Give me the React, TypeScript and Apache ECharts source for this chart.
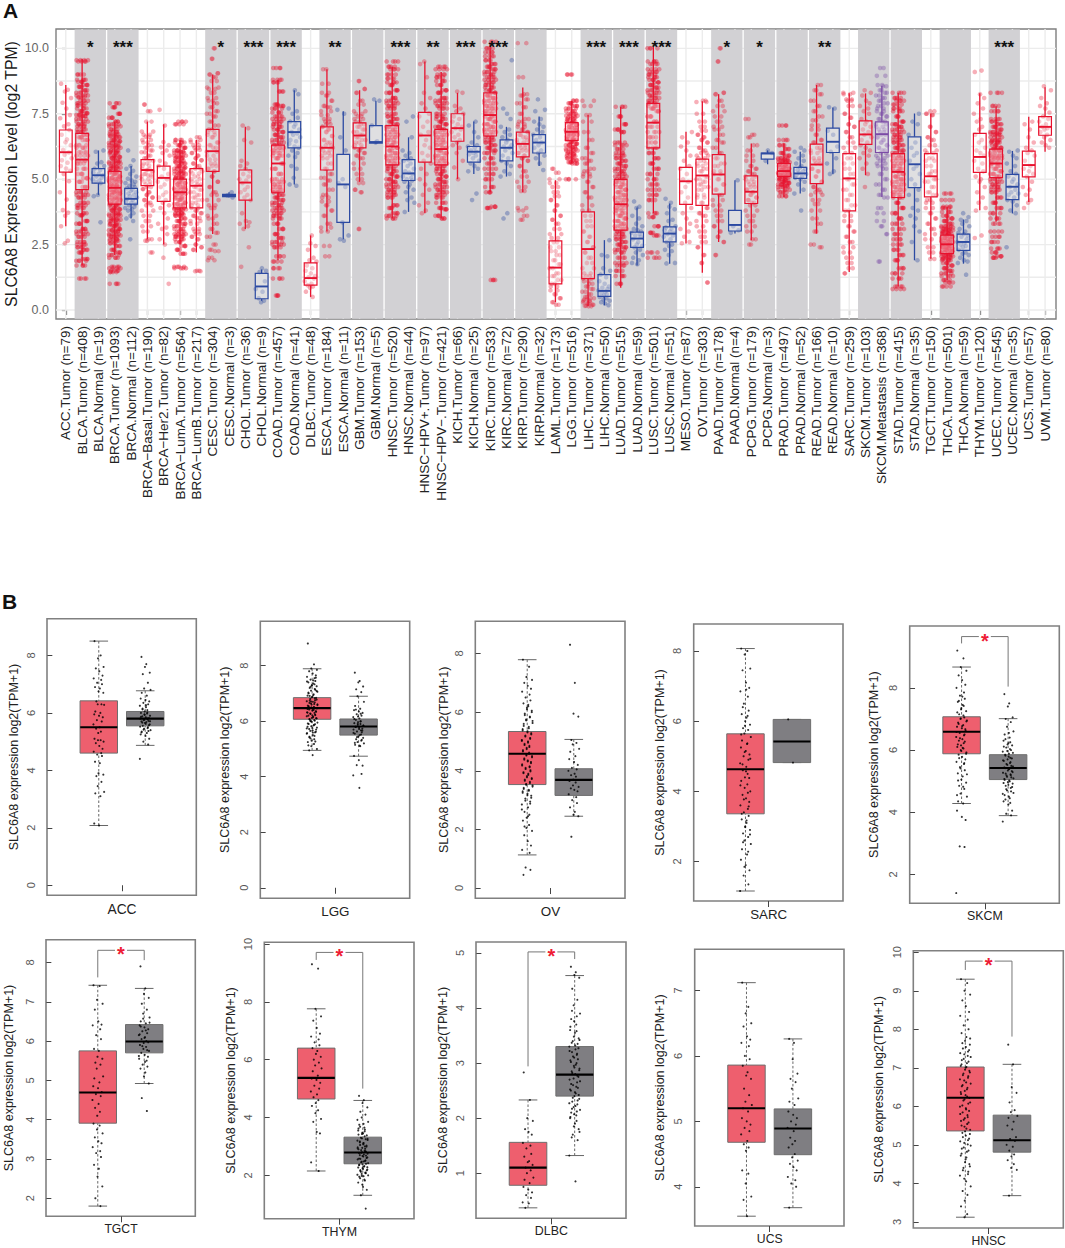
import React, { useEffect, useRef } from "react";
import * as echarts from "echarts";

const FONT = '"Liberation Sans", Arial, sans-serif';

const categories = ["ACC.Tumor (n=79)","BLCA.Tumor (n=408)","BLCA.Normal (n=19)","BRCA.Tumor (n=1093)","BRCA.Normal (n=112)","BRCA−Basal.Tumor (n=190)","BRCA−Her2.Tumor (n=82)","BRCA−LumA.Tumor (n=564)","BRCA−LumB.Tumor (n=217)","CESC.Tumor (n=304)","CESC.Normal (n=3)","CHOL.Tumor (n=36)","CHOL.Normal (n=9)","COAD.Tumor (n=457)","COAD.Normal (n=41)","DLBC.Tumor (n=48)","ESCA.Tumor (n=184)","ESCA.Normal (n=11)","GBM.Tumor (n=153)","GBM.Normal (n=5)","HNSC.Tumor (n=520)","HNSC.Normal (n=44)","HNSC−HPV+.Tumor (n=97)","HNSC−HPV−.Tumor (n=421)","KICH.Tumor (n=66)","KICH.Normal (n=25)","KIRC.Tumor (n=533)","KIRC.Normal (n=72)","KIRP.Tumor (n=290)","KIRP.Normal (n=32)","LAML.Tumor (n=173)","LGG.Tumor (n=516)","LIHC.Tumor (n=371)","LIHC.Normal (n=50)","LUAD.Tumor (n=515)","LUAD.Normal (n=59)","LUSC.Tumor (n=501)","LUSC.Normal (n=51)","MESO.Tumor (n=87)","OV.Tumor (n=303)","PAAD.Tumor (n=178)","PAAD.Normal (n=4)","PCPG.Tumor (n=179)","PCPG.Normal (n=3)","PRAD.Tumor (n=497)","PRAD.Normal (n=52)","READ.Tumor (n=166)","READ.Normal (n=10)","SARC.Tumor (n=259)","SKCM.Tumor (n=103)","SKCM.Metastasis (n=368)","STAD.Tumor (n=415)","STAD.Normal (n=35)","TGCT.Tumor (n=150)","THCA.Tumor (n=501)","THCA.Normal (n=59)","THYM.Tumor (n=120)","UCEC.Tumor (n=545)","UCEC.Normal (n=35)","UCS.Tumor (n=57)","UVM.Tumor (n=80)"];

// low whisker, Q1, median, Q3, high whisker
const boxStats = [[3.2,5.27,6.03,6.88,8.6],[1.7,4.6,5.75,6.75,9.6],[4.4,4.85,5.15,5.4,6.1],[2.1,4.05,4.67,5.3,7.2],[3.5,4.05,4.25,4.65,5.5],[2.7,4.75,5.35,5.75,7.2],[2.5,4.15,5.05,5.5,7.1],[2.5,3.9,4.5,5,6.5],[2.2,3.9,4.75,5.4,6.5],[2.9,5.3,6.07,6.9,9],[4.3,4.33,4.38,4.42,4.5],[3.1,4.2,4.87,5.35,7],[0.35,0.43,0.9,1.4,1.55],[1.9,4.5,5.6,6.3,8.8],[4.8,6.2,6.8,7.2,8.4],[0.5,0.95,1.22,1.8,2.85],[3,5.35,6.2,7,9.2],[2.7,3.35,4.8,5.95,7.6],[4.9,6.2,6.67,7.15,8.4],[6.35,6.38,6.42,7.05,8],[3.5,5.55,6.25,7.05,9.3],[3.75,4.95,5.22,5.75,6.6],[3.7,5.65,6.67,7.55,9.5],[3.5,5.55,6.15,6.9,9.1],[5,6.45,6.95,7.5,8.3],[5.2,5.65,6.05,6.25,7.2],[4.5,6.65,7.45,8.3,10.2],[5.1,5.7,6.2,6.5,7],[4.5,5.85,6.35,6.8,8.5],[5.5,6,6.4,6.7,7.4],[0.3,1,1.62,2.64,4.96],[5.6,6.48,6.81,7.16,8],[0.14,1.2,2.33,3.75,7.45],[0.18,0.52,0.73,1.35,2.67],[0.85,3.05,4.04,4.99,7.77],[1.7,2.39,2.73,2.98,3.92],[3.7,6.2,7.16,7.9,10.06],[1.77,2.6,2.92,3.18,4.07],[2.54,4.04,4.92,5.45,6.81],[1.42,4,5.14,5.77,7.98],[2.6,4.43,5.18,5.94,8.25],[2.92,3.02,3.25,3.81,4.96],[2.67,4.07,4.52,5.13,6.36],[5.57,5.77,5.98,6,6.1],[4.32,5.11,5.31,5.6,6.36],[4.45,5.03,5.22,5.45,6.05],[2.92,4.83,5.56,6.34,8.6],[5.19,6.02,6.43,6.95,7.74],[1.45,3.79,5.03,5.98,8.28],[5.15,6.33,6.71,7.23,8.28],[4.32,6.02,6.72,7.19,8.56],[0.9,4.3,5.28,5.98,8.3],[1.9,4.68,5.57,6.62,7.51],[1.96,4.32,5.11,5.98,7.51],[1.14,2.16,2.51,2.86,3.94],[1.77,2.28,2.6,2.9,3.46],[3.81,5.26,5.85,6.75,8.28],[3.37,5.06,5.6,6.15,7.79],[3.69,4.22,4.71,5.18,6.08],[4.13,5.09,5.54,6.07,7.39],[6.05,6.68,7,7.39,8.51]];

const pointValues = [
[8.65,8.42,8.35,8.1,7.92,7.7,7.45,7.33,7.1,7.02,6.88,6.7,6.52,6.41,6.3,6.12,6.02,5.93,5.8,5.72,5.63,5.5,5.41,5.32,5.2,4.92,4.5,4.22,3.82,3.72,3.6,3.2,2.65,2.55],
[9.55,9.5,9,8.8,8.72,8.6,8.53,8.4,8.3,8.2,8.13,8,7.9,7.82,7.7,7.6,7.52,7.45,7.41,7.3,7.2,7.1,7.02,6.9,6.8,6.7,6.6,6.5,6.3,6.2,6.03,5.9,5.7,5.6,5.4,5.2,5.04,4.9,4.7,4.5,4.4,4.3,4.1,4,3.9,3.7,3.62,3.4,3.3,3.1,3,2.9,2.8,2.6,2.5,2.4,2.3,2.2,1.95,1.88,1.7,1.2],
[6.1,6.05,5.65,5.6,5.5,5.4,5.35,5.25,5.2,5.15,5.1,5.05,5,4.95,4.9,4.85,4.4,4.35,3.35],
[7.9,7.75,7.5,7.35,7.2,7.1,7.02,6.9,6.8,6.72,6.65,6.6,6.5,6.45,6.38,6.3,6.25,6.2,6.1,6.05,6,5.9,5.85,5.8,5.7,5.65,5.6,5.5,5.45,5.4,5.3,5.25,5.2,5.1,5.05,5,4.95,4.9,4.8,4.75,4.7,4.6,4.55,4.5,4.45,4.4,4.3,4.25,4.2,4.1,4.05,4,3.9,3.85,3.8,3.7,3.65,3.6,3.5,3.45,3.4,3.3,3.25,3.2,3.1,3.05,3,2.9,2.85,2.8,2.7,2.65,2.55,2.45,2.3,2.2,2.1,2,1.65,1.6,1.5,1.45,1],
[6.1,5.72,5.5,5.4,5.32,5.2,5.1,5.02,4.95,4.9,4.85,4.8,4.75,4.7,4.65,4.6,4.55,4.5,4.45,4.4,4.35,4.3,4.25,4.2,4.15,4.1,4.05,4,3.95,3.9,3.85,3.8,3.7,3.6,3.5,3.4,2.7],
[7.85,7.6,7.2,6.82,6.7,6.62,6.5,6.4,6.3,6.2,6.1,6.03,5.9,5.8,5.7,5.6,5.52,5.4,5.35,5.3,5.2,5.15,5.1,5,4.9,4.8,4.7,4.62,4.5,4.4,4.3,4.2,4.1,4,3.8,3.6,3.4,3.2,3,2.7,2.65,2.2],
[7.65,7.05,6.42,6.3,6.22,6.1,6,5.9,5.7,5.6,5.5,5.4,5.2,5.1,5,4.9,4.8,4.7,4.5,4.4,4.3,4.2,4.1,4,3.9,3.7,3.5,3.3,3.15,3.1,2.9,2.7,2.5,2,1],
[7.2,7.1,6.5,6.4,6.3,6.2,6.1,6.05,6,5.9,5.85,5.8,5.7,5.65,5.6,5.5,5.45,5.4,5.3,5.25,5.2,5.1,5.05,5,4.9,4.85,4.8,4.7,4.65,4.6,4.5,4.45,4.4,4.3,4.25,4.2,4.1,4.05,4,3.9,3.85,3.8,3.7,3.65,3.6,3.5,3.4,3.3,3.2,3.1,3,2.9,2.85,2.8,2.7,2.6,2.45,2.3,2.15,1.65,1.6],
[6.6,6.5,6.42,6.3,6.2,6.12,6,5.9,5.8,5.72,5.6,5.5,5.4,5.3,5.22,5.1,5,4.9,4.8,4.7,4.6,4.5,4.4,4.3,4.2,4.1,4,3.9,3.8,3.7,3.6,3.52,3.4,3.3,3.1,3,2.9,2.8,2.7,2.5,2.4,2.3,1.5,1.48],
[10,9.6,9.05,9,8.9,8.75,8.5,8.45,8.3,8.1,8,7.9,7.75,7.6,7.5,7.4,7.2,7.05,6.9,6.8,6.7,6.6,6.4,6.3,6.2,6.05,5.9,5.75,5.6,5.5,5.4,5.3,5.1,4.9,4.7,4.5,4.4,4.2,4,3.9,3.6,3.5,3.3,3.1,2.95,2.8,2.5,2.3,2.25,2,1.9],
[4.5,4.38,4.3],
[7.05,6.95,6.5,6.4,5.7,5.6,5.5,5.4,5.3,5.2,5.1,5,4.95,4.85,4.7,4.6,4.5,4.4,4.3,4.2,3.7,3.4,3.35,3.3,3.2,3.1,2.4,1.65],
[1.6,1.5,1.45,1.1,0.8,0.7,0.45,0.35,0.3],
[9.25,8.8,8.7,8.35,7.85,7.8,7.7,7.55,7.4,7.3,7.2,7.1,7,6.9,6.8,6.7,6.6,6.5,6.4,6.3,6.2,6.1,6,5.9,5.8,5.6,5.4,5.2,5,4.9,4.8,4.7,4.6,4.5,4.4,4.3,4.2,4.1,4,3.9,3.8,3.7,3.6,3.5,3.3,3.1,2.9,2.75,2.6,2.5,2.4,2.05,1.85,1.6,1.2,0.55],
[8.4,8.25,7.7,7.6,7.5,7.35,7.2,7.1,7,6.9,6.8,6.75,6.7,6.6,6.5,6.45,6.35,6.25,6.2,6.1,6,5.9,5.85,5.5,5.4,5.05,4.8,4.75],
[2.85,2.55,2.45,2.3,2,1.9,1.85,1.7,1.6,1.5,1.4,1.3,1.25,1.2,1.1,1,0.95,0.9,0.85,0.7,0.5],
[9.2,8.65,8.3,8.2,8,7.8,7.75,7.6,7.45,7.3,7.2,7.1,7,6.9,6.8,6.65,6.5,6.4,6.3,6.2,6.1,6,5.9,5.8,5.6,5.4,5.2,5.05,4.95,4.8,4.6,4.4,4.3,4.15,4,3.8,3.6,3.3,3.15,3,2.45,2.05],
[7.65,7.5,6.6,6.1,5,4.85,4.7,3.35,2.85,2.7,2.65],
[8.75,8.45,8.3,8,7.85,7.6,7.5,7.4,7.3,7.2,7.1,7,6.9,6.8,6.7,6.6,6.5,6.4,6.3,6.2,6.1,6,5.9,5.8,5.6,5.4,5.2,5,4.85,4.6,4.5,3.1],
[8.05,8,7.05,6.45,6.4],
[9.5,9.3,9.2,9,8.85,8.7,8.6,8.4,8.3,8.1,8,7.9,7.8,7.7,7.5,7.4,7.3,7.2,7.1,7,6.9,6.8,6.7,6.6,6.5,6.4,6.3,6.2,6.1,6,5.9,5.8,5.7,5.6,5.5,5.4,5.3,5.2,5.1,5,4.9,4.8,4.7,4.6,4.5,4.4,4.3,4,3.9,3.7,3.6,3.5],
[7.4,7.2,6.6,6.1,6,5.9,5.8,5.75,5.7,5.6,5.5,5.4,5.3,5.25,5.2,5.1,5.05,5,4.95,4.9,4.8,4.7,4.6,4.5,4.3,4.2,4.1,3.75],
[9.5,9.4,8.9,8.3,8.1,7.9,7.7,7.5,7.4,7.2,7,6.8,6.7,6.5,6.3,6.2,6,5.9,5.7,5.6,5.4,5.2,5,4.8,4.6,4.4,4.1,4,3.8,3.7],
[9.3,9.2,9,8.9,8.75,8.6,8.4,8.3,8.1,8,7.9,7.8,7.7,7.5,7.4,7.3,7.2,7.1,7,6.9,6.8,6.7,6.6,6.5,6.4,6.3,6.2,6.1,6,5.9,5.8,5.7,5.6,5.5,5.4,5.3,5.2,5.1,5,4.9,4.8,4.7,4.6,4.5,4.4,4.3,4.1,3.9,3.85,3.6,3.5],
[8.35,8.3,7.8,7.7,7.6,7.5,7.4,7.3,7.2,7.1,7,6.95,6.9,6.8,6.7,6.6,6.5,6.4,6.3,6.2,6,5.7,5.45,5],
[7.2,7.05,6.8,6.6,6.4,6.3,6.25,6.2,6.1,6.05,6,5.95,5.9,5.8,5.7,5.6,5.5,5.4,5.3,4.45,4.2],
[10.25,10,9.85,9.7,9.55,9.4,9.3,9.2,9.1,9,8.9,8.8,8.7,8.6,8.5,8.4,8.3,8.2,8.1,8,7.9,7.8,7.7,7.6,7.5,7.4,7.3,7.2,7.1,7,6.9,6.8,6.7,6.6,6.5,6.4,6.3,6.2,6.1,6,5.8,5.6,5.4,5.2,5,4.7,4.5,3.95,3.9,1.15],
[9.55,7.7,7.5,7.3,7,6.9,6.8,6.7,6.6,6.5,6.4,6.3,6.25,6.2,6.1,6,5.9,5.8,5.7,5.6,5.5,5.3,5.2,5.1,3.7,3.5],
[10.2,8.9,8.25,8.2,8.05,7.9,7.75,7.5,7.3,7.2,7.1,7,6.9,6.8,6.7,6.6,6.5,6.4,6.3,6.2,6.1,6,5.9,5.8,5.7,5.5,5.3,5.1,4.9,4.7,4.55,3.9,3.8,3.6,3.45],
[8.05,7.65,7.6,7.3,7.2,7.1,7,6.9,6.8,6.7,6.6,6.5,6.4,6.3,6.2,6.1,6,5.9,5.8,5.6,5.35],
[5.4,5.25,5,4.85,4.7,4.5,4.35,4.2,4,3.8,3.6,3.45,3.3,3.1,2.9,2.75,2.6,2.4,2.25,2.1,1.9,1.75,1.6,1.4,1.3,1.15,1,0.9,0.75,0.6,0.45,0.3,0.2],
[9,8,7.9,7.8,7.7,7.6,7.5,7.42,7.35,7.28,7.2,7.15,7.08,7,6.95,6.88,6.8,6.75,6.7,6.62,6.55,6.5,6.42,6.35,6.3,6.22,6.15,6.1,6.02,5.95,5.88,5.8,5.72,5.65,5.6,5],
[8.0,7.8,7.45,7.2,6.8,6.5,6.2,6,5.8,5.7,5.6,5.4,5.3,5.2,5.1,4.9,4.7,4.5,4.3,4,3.8,3.6,3.4,3.2,3,2.8,2.6,2.4,2.2,2,1.8,1.6,1.4,1.3,1.2,1.1,1,0.9,0.8,0.7,0.6,0.5,0.45,0.4,0.35,0.3,0.25,0.2,0.16,0.14],
[2.67,2.1,2.05,1.6,1.5,1.35,1.25,1.1,1,0.9,0.85,0.8,0.75,0.7,0.65,0.6,0.55,0.5,0.45,0.4,0.35,0.3,0.25,0.18],
[7.77,7.4,7.1,6.9,6.8,6.4,6.3,6.15,6,5.9,5.8,5.7,5.6,5.5,5.4,5.3,5.2,5.1,5,4.9,4.8,4.7,4.6,4.5,4.4,4.3,4.2,4.1,4,3.9,3.8,3.7,3.6,3.5,3.4,3.3,3.2,3.1,3,2.9,2.8,2.7,2.6,2.5,2.4,2.3,2.2,2,1.8,1.7,1.5,1.3,1],
[4.15,3.95,3.9,3.6,3.5,3.3,3.2,3.1,3.05,3,2.95,2.9,2.85,2.8,2.7,2.6,2.5,2.45,2.4,2.3,2.2,2.1,2,1.9,1.8,1.75],
[10,9.5,9.4,9.2,9.1,9,8.9,8.8,8.7,8.6,8.5,8.4,8.3,8.2,8.1,8,7.9,7.8,7.7,7.6,7.4,7.2,7,6.8,6.6,6.4,6.2,6,5.8,5.6,5.4,5.2,5,4.8,4.6,4.4,4.2,3.7,3.55,3.2,2.95,2.85,2.2,2],
[4.25,4.1,3.95,3.85,3.7,3.45,3.4,3.2,3.15,3.1,3.05,3,2.95,2.9,2.85,2.8,2.7,2.6,2.5,2.45,2.3,2.25,2.1,1.8,1.78],
[6.8,6.6,6.4,6.25,6.1,5.9,5.7,5.5,5.4,5.2,5,4.9,4.7,4.5,4.3,4.1,3.9,3.7,3.5,3.3,3.1,3,2.8,2.6,2.55],
[8,7.95,7.5,7.2,7,6.85,6.7,6.6,6.5,6.4,6.2,6.1,6,5.9,5.8,5.7,5.6,5.5,5.4,5.3,5.1,5,4.9,4.8,4.7,4.6,4.4,4.3,4.1,3.9,3.7,3.6,3.4,3.2,3,2.8,2.6,2.4,2.1,1.8,1.05],
[10,9.5,8.3,8.25,8,7.8,7.6,7.4,7.2,7,6.9,6.7,6.5,6.4,6.2,6,5.8,5.6,5.5,5.3,5.2,5,4.8,4.6,4.4,4.2,4,3.8,3.6,3.4,3.2,3,2.8,2.6,2.1],
[4.96,3.2,3.05,2.95],
[7.3,6.7,6.6,6.3,6.1,5.9,5.7,5.5,5.4,5.3,5.2,5.1,5,4.9,4.8,4.7,4.6,4.5,4.4,4.3,4.2,4.1,4,3.8,3.6,3.4,3.2,3,2.7,2.5],
[6.1,6,5.7],
[7.05,6.5,6.3,6.15,6,5.9,5.8,5.75,5.7,5.65,5.6,5.55,5.5,5.45,5.4,5.35,5.3,5.25,5.2,5.15,5.1,5.05,5,4.95,4.9,4.85,4.8,4.75,4.7,4.6,4.5,4.35],
[6.2,6.1,6.05,5.9,5.8,5.7,5.6,5.5,5.45,5.4,5.35,5.3,5.25,5.2,5.15,5.1,5.05,5,4.9,4.8,4.6,4.45,3.8],
[8.6,8.4,8.25,8,7.8,7.6,7.4,7.25,7.05,6.9,6.7,6.5,6.4,6.2,6.1,6,5.8,5.7,5.6,5.4,5.3,5.1,4.9,4.7,4.6,4.5,4.4,4.2,4.05,3.8,3.5,3.3,3,2.4,2.5],
[7.75,7.7,6.85,6.7,6.25,6.05,5.8,5.6,5.3,5.2],
[8.3,8.25,8.05,8,7.8,7.5,7.35,7.1,7,6.8,6.6,6.4,6.2,6,5.8,5.6,5.4,5.2,5,4.8,4.6,4.4,4.2,4,3.8,3.6,3.4,3.2,3,2.8,2.6,2.4,2.2,2,1.8,1.6,1.4],
[8.4,8.3,8.2,8,7.9,7.8,7.7,7.6,7.5,7.3,7.2,7.1,7,6.9,6.8,6.7,6.6,6.5,6.4,6.3,6.2,6.1,6,5.9,5.8,5.6,5.4,5.2,4.7],
[9.25,8.95,8.6,8.55,8.4,8.3,8.2,8.1,8,7.9,7.8,7.7,7.6,7.5,7.4,7.3,7.2,7.1,7,6.9,6.8,6.7,6.6,6.5,6.4,6.3,6.2,6.1,6,5.9,5.8,5.7,5.6,5.5,5.4,5.2,5,4.8,4.6,4.4,4.3,3.9,3.7,3.4,3.2,2.9,1.85],
[8.3,8.1,8,7.85,7.7,7.6,7.4,7.2,7.1,7,6.9,6.8,6.7,6.6,6.5,6.4,6.3,6.2,6.1,6,5.9,5.8,5.7,5.6,5.5,5.4,5.3,5.2,5.1,5,4.9,4.8,4.7,4.6,4.5,4.4,4.3,4.1,3.9,3.7,3.5,3.3,3.1,2.9,2.7,2.5,2.3,2.1,1.9,1.6,1.4,1.2,0.9,0.8],
[7.5,7.2,7.1,6.7,6.4,6.2,6,5.9,5.7,5.5,5.4,5.2,5,4.8,4.6,4.4,4.2,3.9,3.8,3.6,3.5,3.2,3,2.6,1.9],
[7.6,7.5,7.45,7,6.8,6.6,6.5,6.3,6.1,6,5.8,5.7,5.5,5.3,5.2,5,4.9,4.7,4.5,4.4,4.2,4.1,3.9,3.7,3.5,3.3,3.1,2.9,2.7,2.4,2.2,1.95],
[4.45,4.2,3.95,3.9,3.75,3.6,3.5,3.4,3.3,3.2,3.15,3.1,3.05,3,2.95,2.9,2.85,2.8,2.75,2.7,2.65,2.6,2.55,2.5,2.45,2.4,2.35,2.3,2.25,2.2,2.15,2.1,2.05,2,1.95,1.9,1.8,1.7,1.6,1.5,1.4,1.3,1.15,1.05,0.9],
[3.7,3.55,3.45,3.4,3.3,3.2,3.1,3,2.95,2.9,2.85,2.8,2.7,2.6,2.55,2.5,2.45,2.4,2.3,2.2,2.15,2.1,2,1.9,1.85,1.8,1.35],
[9.15,9.1,8.25,8.1,7.9,7.7,7.5,7.3,7.2,7,6.9,6.7,6.5,6.4,6.2,6.1,6,5.9,5.7,5.6,5.4,5.3,5.1,5,4.9,4.7,4.5,4.3,4.1,3.9,3.8,2.85,2.75],
[8.3,7.8,7.6,7.3,7.2,7.1,7,6.9,6.8,6.75,6.7,6.6,6.5,6.45,6.4,6.3,6.2,6.15,6.1,6,5.9,5.85,5.8,5.7,5.6,5.5,5.4,5.3,5.2,5.1,5,4.9,4.8,4.7,4.6,4.5,4.3,4.1,3.9,3.7,3.5,3.3,3,2.8,2.6,2.35,2.2,2.05,2],
[6.1,6.05,5.9,5.8,5.6,5.5,5.3,5.2,5.1,5,4.9,4.8,4.7,4.6,4.5,4.45,4.4,4.3,4.2,4.15,4,3.8,3.7,2.4],
[7.2,7.1,6.9,6.6,6.4,6.2,6.1,6,5.9,5.7,5.5,5.4,5.3,5.2,5.1,4.9,4.7,4.6,4.4,4.2,4.1,3.9],
[8.55,8.4,8.1,7.9,7.8,7.7,7.55,7.4,7.3,7.2,7.1,7,6.95,6.9,6.8,6.7,6.6,6.5,6.4,6.3,6.2]
];

const bandRanges = [[1,2],[3,4],[9,10],[11,12],[13,14],[16,17],[18,19],[20,21],[22,23],[24,25],[26,27],[28,29],[32,33],[34,35],[36,37],[40,41],[42,43],[44,45],[46,47],[49,50],[51,52],[54,55],[57,58]];
const bandStars = ["*","***","*","***","***","**","","***","**","***","***","","***","***","***","*","*","","**","","","","***"];
const yTicksA = [0,2.5,5,7.5,10];
const yGridA = [0,1.25,2.5,3.75,5,6.25,7.5,8.75,10];
const jitter = [-0.8,0.35,-0.15,0.9,-0.55,0.1,0.7,-0.95,0.45,-0.3,0.6,-0.7,0.2,-0.05,0.85,-0.45,0.5,-0.2,1,-0.65,0.3,-0.85,0.05,0.75,-0.35,0.55,-1,0.15,-0.5,0.4,-0.1];

const panelNames = ["ACC","LGG","OV","SARC","SKCM","TGCT","THYM","DLBC","UCS","HNSC"];
const panelTicks = [[0,2,4,6,8],[0,2,4,6,8],[0,2,4,6,8],[2,4,6,8],[2,4,6,8],[2,3,4,5,6,7,8],[2,4,6,8,10],[1,2,3,4,5],[4,5,6,7],[3,4,5,6,7,8,9,10]];
const tumorStats = [[2.08,4.6,5.5,6.42,8.5],[4.95,6.07,6.47,6.85,7.89],[1.13,3.53,4.58,5.34,7.79],[1.16,3.36,4.63,5.64,8.07],[4.28,5.88,6.59,7.07,8.67],[1.8,3.91,4.69,5.75,7.42],[2.15,4.64,5.37,6.4,7.76],[0.37,0.78,1.1,1.56,2.33],[3.55,4.68,5.2,5.86,7.12],[3.12,5.36,6.22,7.02,9.3]];
const normalStats = [[4.87,5.55,5.8,6.05,6.77],[4.74,5.5,5.81,6.08,6.9],[2.45,3.16,3.69,4.07,5.07],[4.82,4.82,5.42,6.05,6.05],[3.89,5.05,5.42,5.85,7.01],[4.92,5.7,5.99,6.42,7.34],[1.31,2.4,2.79,3.32,4.59],[1.32,2.4,2.79,3.3,4.59],[3.68,4.49,4.89,5.19,6.26],[3.68,4.81,5.12,5.77,7.09]];
// bracket: top, left end, right end (null = no bracket)
const brackets = [null,null,null,null,[9.65,9.43,8.04],[8.31,7.62,8.06],[9.71,9.45,5],[5.02,2.94,4.89],null,[9.77,9.54,7.81]];

const tumorPoints = [
[8.5,8,7.9,7.6,7.55,7.45,7.3,7.2,7.15,7.05,7,6.9,6.85,6.75,6.7,6.4,6.3,6.3,6.28,6.05,6,5.95,5.9,5.85,5.75,5.7,5.6,5.5,5.45,5.35,5.3,5.1,5.05,5.05,5,4.95,4.85,4.75,4.65,4.6,4.55,4.5,4.3,4.25,3.9,3.85,3.8,3.6,3.45,3.25,3.2,3.1,2.15,2.08],
[8.8,8.05,7.9,7.85,7.8,7.72,7.65,7.6,7.55,7.5,7.45,7.4,7.36,7.3,7.26,7.2,7.16,7.1,7.06,7,6.97,6.92,6.88,6.84,6.8,6.76,6.72,6.7,6.66,6.62,6.6,6.56,6.52,6.5,6.46,6.42,6.4,6.36,6.32,6.3,6.26,6.22,6.2,6.16,6.12,6.1,6.06,6.02,6,5.95,5.9,5.85,5.8,5.75,5.7,5.65,5.6,5.55,5.5,5.42,5.35,5.3,5.25,5.18,5.1,5,4.95,4.78,
 7.57,7.43,7.33,7.24,7.13,7.03,6.94,6.86,6.78,6.74,6.68,6.64,6.58,6.54,6.48,6.44,6.38,6.34,6.28,6.24,6.18,6.14,6.08,6.04,5.98,5.92,5.87,5.82,5.77,5.72,5.67,5.62,5.57,5.47,5.38,5.27,5.13,
 7.47,7.28,7.09,6.91,6.83,6.71,6.61,6.51,6.41,6.31,6.21,6.11,6.01,5.89,5.74,5.59,5.44],
[7.79,7.55,7.2,7.1,7,6.9,6.8,6.7,6.6,6.5,6.4,6.3,6.2,6.1,6,5.9,5.85,5.75,5.7,5.6,5.5,5.42,5.35,5.28,5.2,5.12,5.05,5,4.92,4.85,4.78,4.7,4.62,4.55,4.5,4.42,4.35,4.3,4.22,4.15,4.1,4.02,3.95,3.9,3.82,3.75,3.7,3.62,3.55,3.5,3.42,3.35,3.3,3.22,3.15,3.05,2.95,2.85,2.75,2.6,2.5,2.4,2.3,2.15,2.05,1.95,1.8,1.6,1.45,1.3,1.2,0.7,0.62,0.45,
 6.25,6.15,6.05,5.95,5.82,5.72,5.63,5.53,5.45,5.38,5.31,5.24,5.17,5.09,5.02,4.96,4.88,4.81,4.74,4.66,4.58,4.52,4.46,4.38,4.32,4.26,4.18,4.12,4.06,3.98,3.92,3.86,3.78,3.72,3.66,3.58,3.52,3.46,3.38,3.32,3.25,3.17,3.08,2.98,2.88,2.68,2.45,2.1],
[8.07,8,7.9,7.5,7.45,7.1,6.95,6.85,6.7,6.5,6.3,6.2,6.1,6,5.9,5.8,5.75,5.65,5.55,5.45,5.35,5.25,5.15,5.05,5,4.9,4.8,4.7,4.6,4.5,4.4,4.3,4.2,4.1,4,3.9,3.8,3.7,3.6,3.5,3.4,3.3,3.2,3.1,3,2.9,2.8,2.7,2.6,2.5,2.35,2.2,2.05,1.9,1.75,1.6,1.35,1.16,
 6.9,6.4,6.15,5.87,5.62,5.37,5.12,4.93,4.77,4.57,4.38,4.17,3.96,3.77,3.57,3.36,3.17,2.98,2.77,2.55,2.28,1.85],
[9.2,8.95,8.67,8.55,8.4,8.25,8.1,8,7.85,7.75,7.65,7.55,7.45,7.35,7.25,7.15,7.05,7,6.95,6.88,6.8,6.75,6.7,6.62,6.55,6.5,6.42,6.35,6.3,6.22,6.15,6.1,6.05,6,5.92,5.85,5.78,5.7,5.62,5.55,5.45,5.35,5.25,5.15,5.05,4.95,4.85,4.75,4.6,4.5,4.35,4.28,4.05,3.85,3.75,2.9,2.88,1.4,
 7.72,7.58,7.42,7.31,7.21,7.11,7.02,6.92,6.84,6.77,6.67,6.58,6.47,6.38,6.27,6.18,6.07,5.97,5.88,5.74,5.58,5.41,5.22,5.02,4.82,4.55],
[7.42,7.4,7.05,6.95,6.8,6.5,6.42,6.4,6.3,6.15,6.05,5.8,5.75,5.6,5.55,5.45,5.4,5.3,5.1,5.05,4.95,4.85,4.8,4.7,4.65,4.6,4.5,4.4,4.3,4.2,4.1,3.9,3.85,3.75,3.65,3.55,3.45,3.4,3.3,3.2,3.15,3.05,2.85,2.75,2.55,2.3,2,1.8],
[9.3,9.15,7.76,7.5,7.35,7.1,6.9,6.8,6.7,6.6,6.5,6.4,6.3,6.2,6.1,6,5.9,5.8,5.7,5.6,5.45,5.35,5.3,5.2,5.1,5,4.9,4.8,4.7,4.6,4.5,4.4,4.25,4.15,3.95,3.85,3.5,3.45,2.45,2.15],
[2.83,2.33,2,1.95,1.8,1.75,1.7,1.55,1.5,1.45,1.35,1.3,1.22,1.2,1.15,1.1,1.05,1,0.92,0.88,0.82,0.75,0.7,0.65,0.6,0.55,0.47,0.45,0.37],
[7.12,6.75,6.65,6.5,6.45,6.3,6.25,6.2,6.15,6,5.95,5.85,5.75,5.7,5.65,5.5,5.4,5.3,5.25,5.2,5.15,5.05,5,4.95,4.9,4.85,4.8,4.7,4.65,4.6,4.55,4.25,4.2,4.05,3.85,3.8,3.55],
[9.3,9.2,9,8.9,8.75,8.6,8.45,8.35,8.25,8.1,8,7.9,7.8,7.7,7.6,7.5,7.42,7.35,7.28,7.2,7.12,7.05,7,6.92,6.85,6.78,6.7,6.62,6.55,6.48,6.4,6.32,6.25,6.18,6.1,6.02,5.95,5.88,5.8,5.72,5.65,5.58,5.5,5.42,5.35,5.28,5.2,5.12,5.05,4.98,4.9,4.82,4.72,4.62,4.5,4.4,4.3,4.2,4.05,3.8,3.7,3.55,3.4,3.2,3.12,
 7.76,7.64,7.54,7.46,7.38,7.31,7.23,7.16,7.09,7.02,6.95,6.88,6.81,6.74,6.67,6.59,6.52,6.44,6.37,6.29,6.22,6.15,6.07,5.99,5.92,5.84,5.77,5.69,5.62,5.54,5.47,5.39,5.31,5.24,5.16,5.09,5.01,4.93,4.85,4.77,4.67,4.55,4.44,4.34,4.24,4.12,3.92]
];
const normalPoints = [
[7.95,7.7,7.6,7.4,7.35,7.05,6.85,6.8,6.7,6.6,6.5,6.45,6.4,6.35,6.3,6.25,6.2,6.15,6.1,6.05,6,5.98,5.95,5.9,5.88,5.85,5.82,5.8,5.78,5.75,5.72,5.7,5.68,5.65,5.6,5.55,5.5,5.45,5.4,5.35,5.3,5.25,5.2,5.1,5,4.9,4.4,
 6.27,6.12,6.02,5.93,5.86,5.81,5.76,5.71,5.66,5.62,5.57,5.52,5.47,5.42,5.37,5.32],
[7.75,7.45,7.4,7.25,7.15,7.05,6.9,6.7,6.55,6.45,6.4,6.35,6.3,6.25,6.2,6.15,6.1,6.05,6,5.97,5.93,5.9,5.87,5.83,5.8,5.77,5.73,5.7,5.67,5.63,5.6,5.55,5.5,5.45,5.4,5.35,5.3,5.25,5.2,5.15,5.1,4.75,4.6,4.4,4.42,4.1,4.05,3.6,
 6.42,6.27,6.17,6.08,5.99,5.91,5.85,5.79,5.72,5.66,5.58,5.52,5.43,5.33,5.22,5.12],
[8.3,7,5.95,5.85,5.05,4.95,4.9,4.75,4.65,4.5,4.4,4.3,4.2,4.1,4.05,4,3.9,3.85,3.8,3.7,3.65,3.6,3.5,3.45,3.4,3.35,3.3,3.2,3.1,3,2.9,2.75,2.6,2.5,2.45,1.75],
[6.05,4.82],
[7.8,7.5,7.4,7.05,7,6.9,6.75,6.6,6.5,6.4,6.3,6.22,6.15,6.08,6,5.95,5.88,5.82,5.75,5.7,5.65,5.58,5.52,5.47,5.42,5.38,5.32,5.27,5.22,5.18,5.12,5.07,5.02,4.97,4.92,4.85,4.78,4.7,4.62,4.55,4.45,4.35,4.25,4.05,3.95,3.9,3.7,
 6.55,6.35,6.25,6.18,6.11,6.03,5.97,5.91,5.85,5.79,5.73,5.67,5.61,5.55,5.49,5.44,5.39,5.34,5.29,5.24,5.19,5.14,5.09,5.04,4.99,4.94,4.88,4.81,4.74,4.67,4.59,4.5,4.41,4.3],
[7.9,7.34,7.2,7.1,6.95,6.8,6.7,6.6,6.5,6.45,6.4,6.35,6.3,6.25,6.2,6.15,6.1,6.05,6,5.95,5.9,5.85,5.8,5.75,5.7,5.65,5.6,5.55,5.5,5.4,5.35,5.3,5.2,5.1,4.92,4.55,4.22,
 6.57,6.47,6.37,6.27,6.17,6.08,5.97,5.87,5.77,5.62,5.47],
[4.75,4.6,4.5,4.35,4.2,4.1,4,3.85,3.75,3.65,3.55,3.45,3.38,3.3,3.25,3.2,3.12,3.05,3,2.95,2.9,2.85,2.8,2.75,2.7,2.65,2.6,2.55,2.5,2.45,2.4,2.35,2.3,2.25,2.2,2.15,2.1,2.05,2,1.95,1.85,1.75,1.6,1.5,1.31,0.85,
 3.92,3.78,3.68,3.58,3.48,3.41,3.35,3.28,3.22,3.17,3.1,3.03,2.97,2.92,2.87,2.82,2.77,2.72,2.67,2.62,2.57,2.52,2.47,2.42,2.37,2.32,2.27,2.22,2.17,2.12,2.07,2.02,1.97,1.9,1.82,1.68,
 3.62,3.52,3.43,3.26,3.14,3.07,2.99,2.93,2.83,2.78,2.68,2.58,2.48,2.38,2.28,2.18,2.08,1.98],
[4.75,4.65,4.6,4.55,4.35,4.15,4.05,3.9,3.8,3.7,3.6,3.55,3.45,3.4,3.35,3.3,3.25,3.2,3.15,3.1,3.05,3,2.95,2.9,2.85,2.8,2.75,2.7,2.65,2.6,2.55,2.5,2.45,2.4,2.35,2.3,2.25,2.2,2.15,2.1,2.05,2,1.9,1.8,1.7,1.6,1.32,0.85,
 3.95,3.85,3.76,3.66,3.58,3.48,3.42,3.37,3.32,3.27,3.22,3.17,3.12,3.07,3.02,2.97,2.92,2.87,2.82,2.77,2.72,2.67,2.62,2.57,2.52,2.47,2.42,2.37,2.32,2.27,2.22,2.17,2.12,2.07,2.02,1.95,1.85,1.75,1.65],
[6.26,6.2,5.95,5.73,5.65,5.6,5.5,5.35,5.3,5.25,5.15,5.1,5.05,5,4.95,4.9,4.85,4.75,4.7,4.65,4.6,4.5,4.45,4.4,4.35,4.3,4.25,4.15,4.1,4.05,4,3.68],
[7.6,7.09,6.5,6.35,6.1,5.9,5.85,5.75,5.7,5.6,5.5,5.4,5.2,5.15,5.1,5,4.95,4.85,4.75,4.7,4.6,4.5,4.4,4.35,3.68]
];

const panelFrames = [[47,196.3,618.7,895.3],[260.3,409.7,621.3,898.3],[475.3,625,621.3,898.3],[693.7,843,624,901],[909.7,1059.3,626,903.3],[46,195.3,939.7,1216.3],[264.3,414,942.3,1218.7],[476,626,942,1218.3],[694.7,844,949.3,1226],[913.3,1063.3,950.7,1228]];
const panelRanges = [[-0.35,9.28],[-0.38,9.6],[-0.35,9.1],[0.875,8.77],[1.07,9.99],[1.54,8.58],[0.5,10.06],[0.18,5.2],[3.4,7.63],[2.84,10.04]];
const nameGaps = [27,29,25,27,29,31,27,27,28,28];
const panelLabelSizes = [13.8,13.4,13.4,13.3,12.4,12.2,12.4,12.4,12.2,12.2];

function typeColor(name: string) {
  if (name.includes("Metastasis")) return "#7b4ba6";
  if (name.includes("Normal")) return "#2c4aa2";
  return "#e8112d";
}

function buildOption() {
  const grids: any[] = [];
  const xAxes: any[] = [];
  const yAxes: any[] = [];
  const series: any[] = [];

  grids.push({ left: 56, top: 29, width: 1000, height: 290, show: true, backgroundColor: "#fff", borderColor: "#7f7f7f", borderWidth: 1.4, containLabel: false, outerBoundsMode: "none", z: 0 });
  const catIndex = categories.map((_, i) => i);
  xAxes.push({
    type: "value", gridIndex: 0, min: -0.6, max: 60.67, splitLine: { show: false }, axisLine: { show: false },
    axisTick: { show: true, customValues: catIndex, length: 5, lineStyle: { color: "#444", width: 1.2 } },
    axisLabel: { show: true, customValues: catIndex, rotate: 90, margin: 7, fontSize: 13.5, color: "#222", fontFamily: FONT, formatter: (v: number) => categories[v] },
  });
  yAxes.push({
    type: "value", gridIndex: 0, min: -0.344, max: 10.74, splitLine: { show: false }, axisLine: { show: false },
    axisTick: { show: true, customValues: yTicksA, length: 4, lineStyle: { color: "#444", width: 1.2 } },
    axisLabel: { show: true, customValues: yTicksA, margin: 7, fontSize: 12.5, color: "#666", fontFamily: FONT, formatter: (v: number) => v.toFixed(1) },
    name: "SLC6A8 Expression Level (log2 TPM)", nameLocation: "middle", nameGap: 37, nameMoveOverlap: false,
    nameTextStyle: { fontSize: 15.8, color: "#1a1a1a", fontFamily: FONT },
  });

  series.push({
    type: "custom", xAxisIndex: 0, yAxisIndex: 0, z: 1, silent: true, clip: true, data: [[0, 0]],
    renderItem: (_p: any, api: any) => {
      const children: any[] = [];
      const ls = { stroke: "#ececec", lineWidth: 1.4 };
      yGridA.forEach((v) => {
        const a = api.coord([-0.6, v]), b = api.coord([60.67, v]);
        children.push({ type: "line", shape: { x1: a[0], y1: a[1], x2: b[0], y2: b[1] }, style: ls });
      });
      catIndex.forEach((v) => {
        const a = api.coord([v, -0.344]), b = api.coord([v, 10.74]);
        children.push({ type: "line", shape: { x1: a[0], y1: a[1], x2: b[0], y2: b[1] }, style: ls });
      });
      return { type: "group", children };
    },
  });
  series.push({
    type: "custom", xAxisIndex: 0, yAxisIndex: 0, z: 2, silent: true, data: bandRanges,
    renderItem: (p: any, api: any) => {
      const from = api.value(0), to = api.value(1);
      const a = api.coord([from - 0.46, 10.72]), b = api.coord([to + 0.46, -0.33]);
      return { type: "rect", shape: { x: a[0], y: a[1], width: b[0] - a[0], height: b[1] - a[1] }, style: { fill: "#d2d1d4" } };
    },
  });

  const sets: Record<string, number[][]> = { dense: [], tumor: [], normal: [], meta: [] };
  pointValues.forEach((vals, i) => {
    const name = categories[i];
    const n = parseInt(name.split("n=")[1], 10);
    const meta = name.includes("Metastasis");
    const normal = name.includes("Normal");
    const key = meta ? "meta" : normal ? "normal" : n >= 400 ? "dense" : "tumor";
    // every read value stands for several samples where the cloud is crowded
    const copies = n >= 400 ? 4 : n >= 140 ? 2 : 1;
    vals.forEach((y, k) => {
      for (let c = 0; c < copies; c++) {
        sets[key].push([i + jitter[(k + i * 7 + c * 11) % jitter.length] * 0.36, y]);
      }
    });
  });
  const scatterStyles: Record<string, string> = { dense: "rgba(232,17,45,0.5)", tumor: "rgba(232,17,45,0.42)", normal: "rgba(44,74,162,0.45)", meta: "rgba(123,75,166,0.45)" };
  Object.keys(sets).forEach((k) => {
    series.push({ type: "scatter", xAxisIndex: 0, yAxisIndex: 0, z: 3, silent: true, symbol: "circle", symbolSize: 4.6, itemStyle: { color: scatterStyles[k], borderWidth: 0 }, data: sets[k] });
  });

  series.push({
    type: "custom", xAxisIndex: 0, yAxisIndex: 0, z: 4, silent: true,
    data: boxStats.map((s, i) => [i, ...s]),
    renderItem: (p: any, api: any) => {
      const x = api.value(0);
      const c = typeColor(categories[p.dataIndex]);
      const low = api.coord([x, api.value(1)]), q1 = api.coord([x, api.value(2)]), med = api.coord([x, api.value(3)]), q3 = api.coord([x, api.value(4)]), high = api.coord([x, api.value(5)]);
      const l = api.coord([x - 0.39, 0])[0], r = api.coord([x + 0.39, 0])[0];
      return {
        type: "group",
        children: [
          { type: "line", shape: { x1: high[0], y1: high[1], x2: high[0], y2: q3[1] }, style: { stroke: c, lineWidth: 1.3 } },
          { type: "line", shape: { x1: low[0], y1: low[1], x2: low[0], y2: q1[1] }, style: { stroke: c, lineWidth: 1.3 } },
          { type: "rect", shape: { x: l, y: q3[1], width: r - l, height: q1[1] - q3[1] }, style: { fill: "rgba(255,255,255,0.3)", stroke: c, lineWidth: 1.2 } },
          { type: "line", shape: { x1: l, y1: med[1], x2: r, y2: med[1] }, style: { stroke: c, lineWidth: 1.9 } },
        ],
      };
    },
  });

  series.push({
    type: "custom", xAxisIndex: 0, yAxisIndex: 0, z: 5, silent: true, data: bandRanges,
    renderItem: (p: any, api: any) => {
      const pos = api.coord([(api.value(0) + api.value(1)) / 2, 10.07]);
      return { type: "text", x: pos[0], y: pos[1] + 1, style: { text: bandStars[p.dataIndex], fill: "#111", font: `bold 17px ${FONT}`, align: "center", verticalAlign: "middle" } };
    },
  });

  panelNames.forEach((name, i) => {
    const g = i + 1;
    const [L, R, T, B] = panelFrames[i];
    const [ymin, ymax] = panelRanges[i];
    grids.push({ left: L, top: T, width: R - L, height: B - T, show: true, backgroundColor: "#fff", borderColor: "#808080", borderWidth: 1.6, containLabel: false, outerBoundsMode: "none", z: 0 });
    xAxes.push({
      type: "value", gridIndex: g, min: -0.115, max: 3.1, splitLine: { show: false }, axisLine: { show: false },
      axisTick: { show: true, customValues: [1.5], length: 6, lineStyle: { color: "#444" } },
      axisLabel: { show: true, customValues: [1.5], margin: 7, fontSize: panelLabelSizes[i], color: "#222", fontFamily: FONT, formatter: () => name },
    });
    yAxes.push({
      type: "value", gridIndex: g, min: ymin, max: ymax, splitLine: { show: false }, axisLine: { show: false },
      axisTick: { show: true, customValues: panelTicks[i], length: 5, lineStyle: { color: "#444" } },
      axisLabel: { show: true, customValues: panelTicks[i], rotate: 90, margin: 11, fontSize: 11, color: "#555", fontFamily: FONT, formatter: (v: number) => String(v) },
      name: "SLC6A8 expression log2(TPM+1)", nameLocation: "middle", nameGap: nameGaps[i], nameMoveOverlap: false,
      nameTextStyle: { fontSize: 12.5, color: "#222", fontFamily: FONT },
    });
    series.push({
      type: "custom", xAxisIndex: g, yAxisIndex: g, z: 2, silent: true,
      data: [[1, ...tumorStats[i]], [2, ...normalStats[i]]],
      renderItem: (p: any, api: any) => {
        const x = api.value(0);
        const low = api.coord([x, api.value(1)]), q1 = api.coord([x, api.value(2)]), q3 = api.coord([x, api.value(4)]), high = api.coord([x, api.value(5)]);
        const l = api.coord([x - 0.403, 0])[0], r = api.coord([x + 0.403, 0])[0];
        const cl = api.coord([x - 0.2, 0])[0], cr = api.coord([x + 0.2, 0])[0];
        const w = { stroke: "#555", lineWidth: 0.9, lineDash: [2.5, 2] };
        const cap = { stroke: "#666", lineWidth: 1 };
        return {
          type: "group",
          children: [
            { type: "line", shape: { x1: high[0], y1: high[1], x2: high[0], y2: q3[1] }, style: w },
            { type: "line", shape: { x1: low[0], y1: low[1], x2: low[0], y2: q1[1] }, style: w },
            { type: "line", shape: { x1: cl, y1: high[1], x2: cr, y2: high[1] }, style: cap },
            { type: "line", shape: { x1: cl, y1: low[1], x2: cr, y2: low[1] }, style: cap },
            { type: "rect", shape: { x: l, y: q3[1], width: r - l, height: q1[1] - q3[1] }, style: { fill: p.dataIndex === 0 ? "#ee5f6e" : "#7f7e82", stroke: "#6e6e6e", lineWidth: 1 } },
          ],
        };
      },
    });
    const pts: number[][] = [];
    tumorPoints[i].forEach((y, k) => pts.push([1 + jitter[k % jitter.length] * 0.115, y]));
    normalPoints[i].forEach((y, k) => pts.push([2 + jitter[(k + 11) % jitter.length] * 0.115, y]));
    series.push({ type: "scatter", xAxisIndex: g, yAxisIndex: g, z: 3, silent: true, symbol: "circle", symbolSize: 2.1, itemStyle: { color: "#000" }, data: pts });
    series.push({
      type: "custom", xAxisIndex: g, yAxisIndex: g, z: 4, silent: true,
      data: [[1, tumorStats[i][2]], [2, normalStats[i][2]]],
      renderItem: (_p: any, api: any) => {
        const x = api.value(0);
        const m = api.coord([x, api.value(1)]);
        const l = api.coord([x - 0.4, 0])[0], r = api.coord([x + 0.4, 0])[0];
        return { type: "line", shape: { x1: l, y1: m[1], x2: r, y2: m[1] }, style: { stroke: "#000", lineWidth: 2.1 } };
      },
    });
    const br = brackets[i];
    if (br) {
      series.push({
        type: "custom", xAxisIndex: g, yAxisIndex: g, z: 5, silent: true, data: [br],
        renderItem: (_p: any, api: any) => {
          const top = api.value(0), le = api.value(1), re = api.value(2);
          const a = api.coord([1, le]), b = api.coord([1, top]), c = api.coord([2, top]), d = api.coord([2, re]);
          const midX = (b[0] + c[0]) / 2;
          return {
            type: "group",
            children: [
              { type: "polyline", shape: { points: [a, b, c, d] }, style: { stroke: "#777", lineWidth: 1, fill: "none" } },
              { type: "line", shape: { x1: midX - 6, y1: b[1], x2: midX + 6, y2: b[1] }, style: { stroke: "#fff", lineWidth: 3 } },
              { type: "text", x: midX, y: b[1] + 4, style: { text: "*", fill: "#ee1c35", font: `bold 20px ${FONT}`, align: "center", verticalAlign: "middle" } },
            ],
          };
        },
      });
    }
  });

  return {
    animation: false,
    backgroundColor: "#fff",
    grid: grids,
    xAxis: xAxes,
    yAxis: yAxes,
    series,
    graphic: [
      { type: "text", left: 3, top: 0, style: { text: "A", fill: "#111", font: `bold 21px ${FONT}` } },
      { type: "text", left: 2, top: 591, style: { text: "B", fill: "#111", font: `bold 21px ${FONT}` } },
    ],
  };
}

export default function App() {
  const ref = useRef<HTMLDivElement>(null);
  useEffect(() => {
    if (!ref.current) return;
    const chart = echarts.init(ref.current, undefined, { renderer: "svg" });
    chart.setOption(buildOption() as any);
    return () => chart.dispose();
  }, []);
  return <div ref={ref} style={{ position: "absolute", left: 0, top: 0, width: 1065, height: 1248 }} />;
}
